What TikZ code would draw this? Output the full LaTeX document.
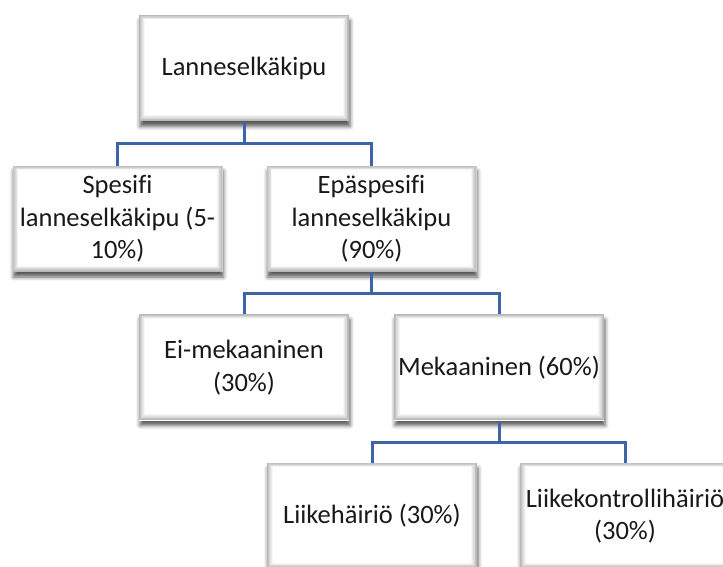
\documentclass[tikz,border=0pt]{standalone}
\usepackage{fontspec}
\setmainfont{Carlito}[Ligatures=NoCommon]
\usetikzlibrary{shadows.blur,calc}
\definecolor{conn}{RGB}{62,100,168}
\tikzset{
  x=1pt, y=-1pt,
  orgbox/.style={minimum width=210pt, minimum height=106pt, inner sep=2pt,
    align=center, text=black!90, font=\fontsize{26.5}{32.5}\selectfont,
    fill=white,
    blur shadow={shadow xshift=1pt, shadow yshift=-5pt, shadow blur radius=4pt, shadow opacity=65},
    path picture={
      \foreach \i [evaluate=\i as \c using 28-4*\i] in {0,...,7}{
        \fill[black!\c!white] ($(path picture bounding box.south west)+(0.8*\i pt,0.8*\i pt+0.5pt)$)
          rectangle ($(path picture bounding box.north east)+(-0.8*\i pt,-0.6*\i pt+0.2pt)$);
      }
    }},
  conline/.style={draw=conn, line width=3pt}
}
\begin{document}
\begin{tikzpicture}
\useasboundingbox (0,0) rectangle (723,567);
\node[orgbox] (a) at (244,68.5) {Lanneselkäkipu};
\node[orgbox] (b) at (117.5,219) {Spesifi\\lanneselkäkipu (5-\\10\%)};
\node[orgbox] (c) at (371.5,219) {Epäspesifi\\lanneselkäkipu\\(90\%)};
\node[orgbox] (d) at (244,367.5) {Ei-mekaaninen\\(30\%)};
\node[orgbox] (e) at (499,367.5) {Mekaaninen (60\%)};
\node[orgbox] (f) at (372,516) {Liikehäiriö (30\%)};
\node[orgbox] (g) at (625,516) {Liikekontrollihäiriö\\(30\%)};
\coordinate (j1) at (244,143.5);
\coordinate (j2) at (371.5,293.5);
\coordinate (j3) at (499,442);
\draw[conline] (a.south) -- (j1);
\draw[conline] (j1) -| (b.north);
\draw[conline] (j1) -| (c.north);
\draw[conline] (c.south) -- (j2);
\draw[conline] (j2) -| (d.north);
\draw[conline] (j2) -| (e.north);
\draw[conline] (e.south) -- (j3);
\draw[conline] (j3) -| (f.north);
\draw[conline] (j3) -| (g.north);
\end{tikzpicture}
\end{document}
